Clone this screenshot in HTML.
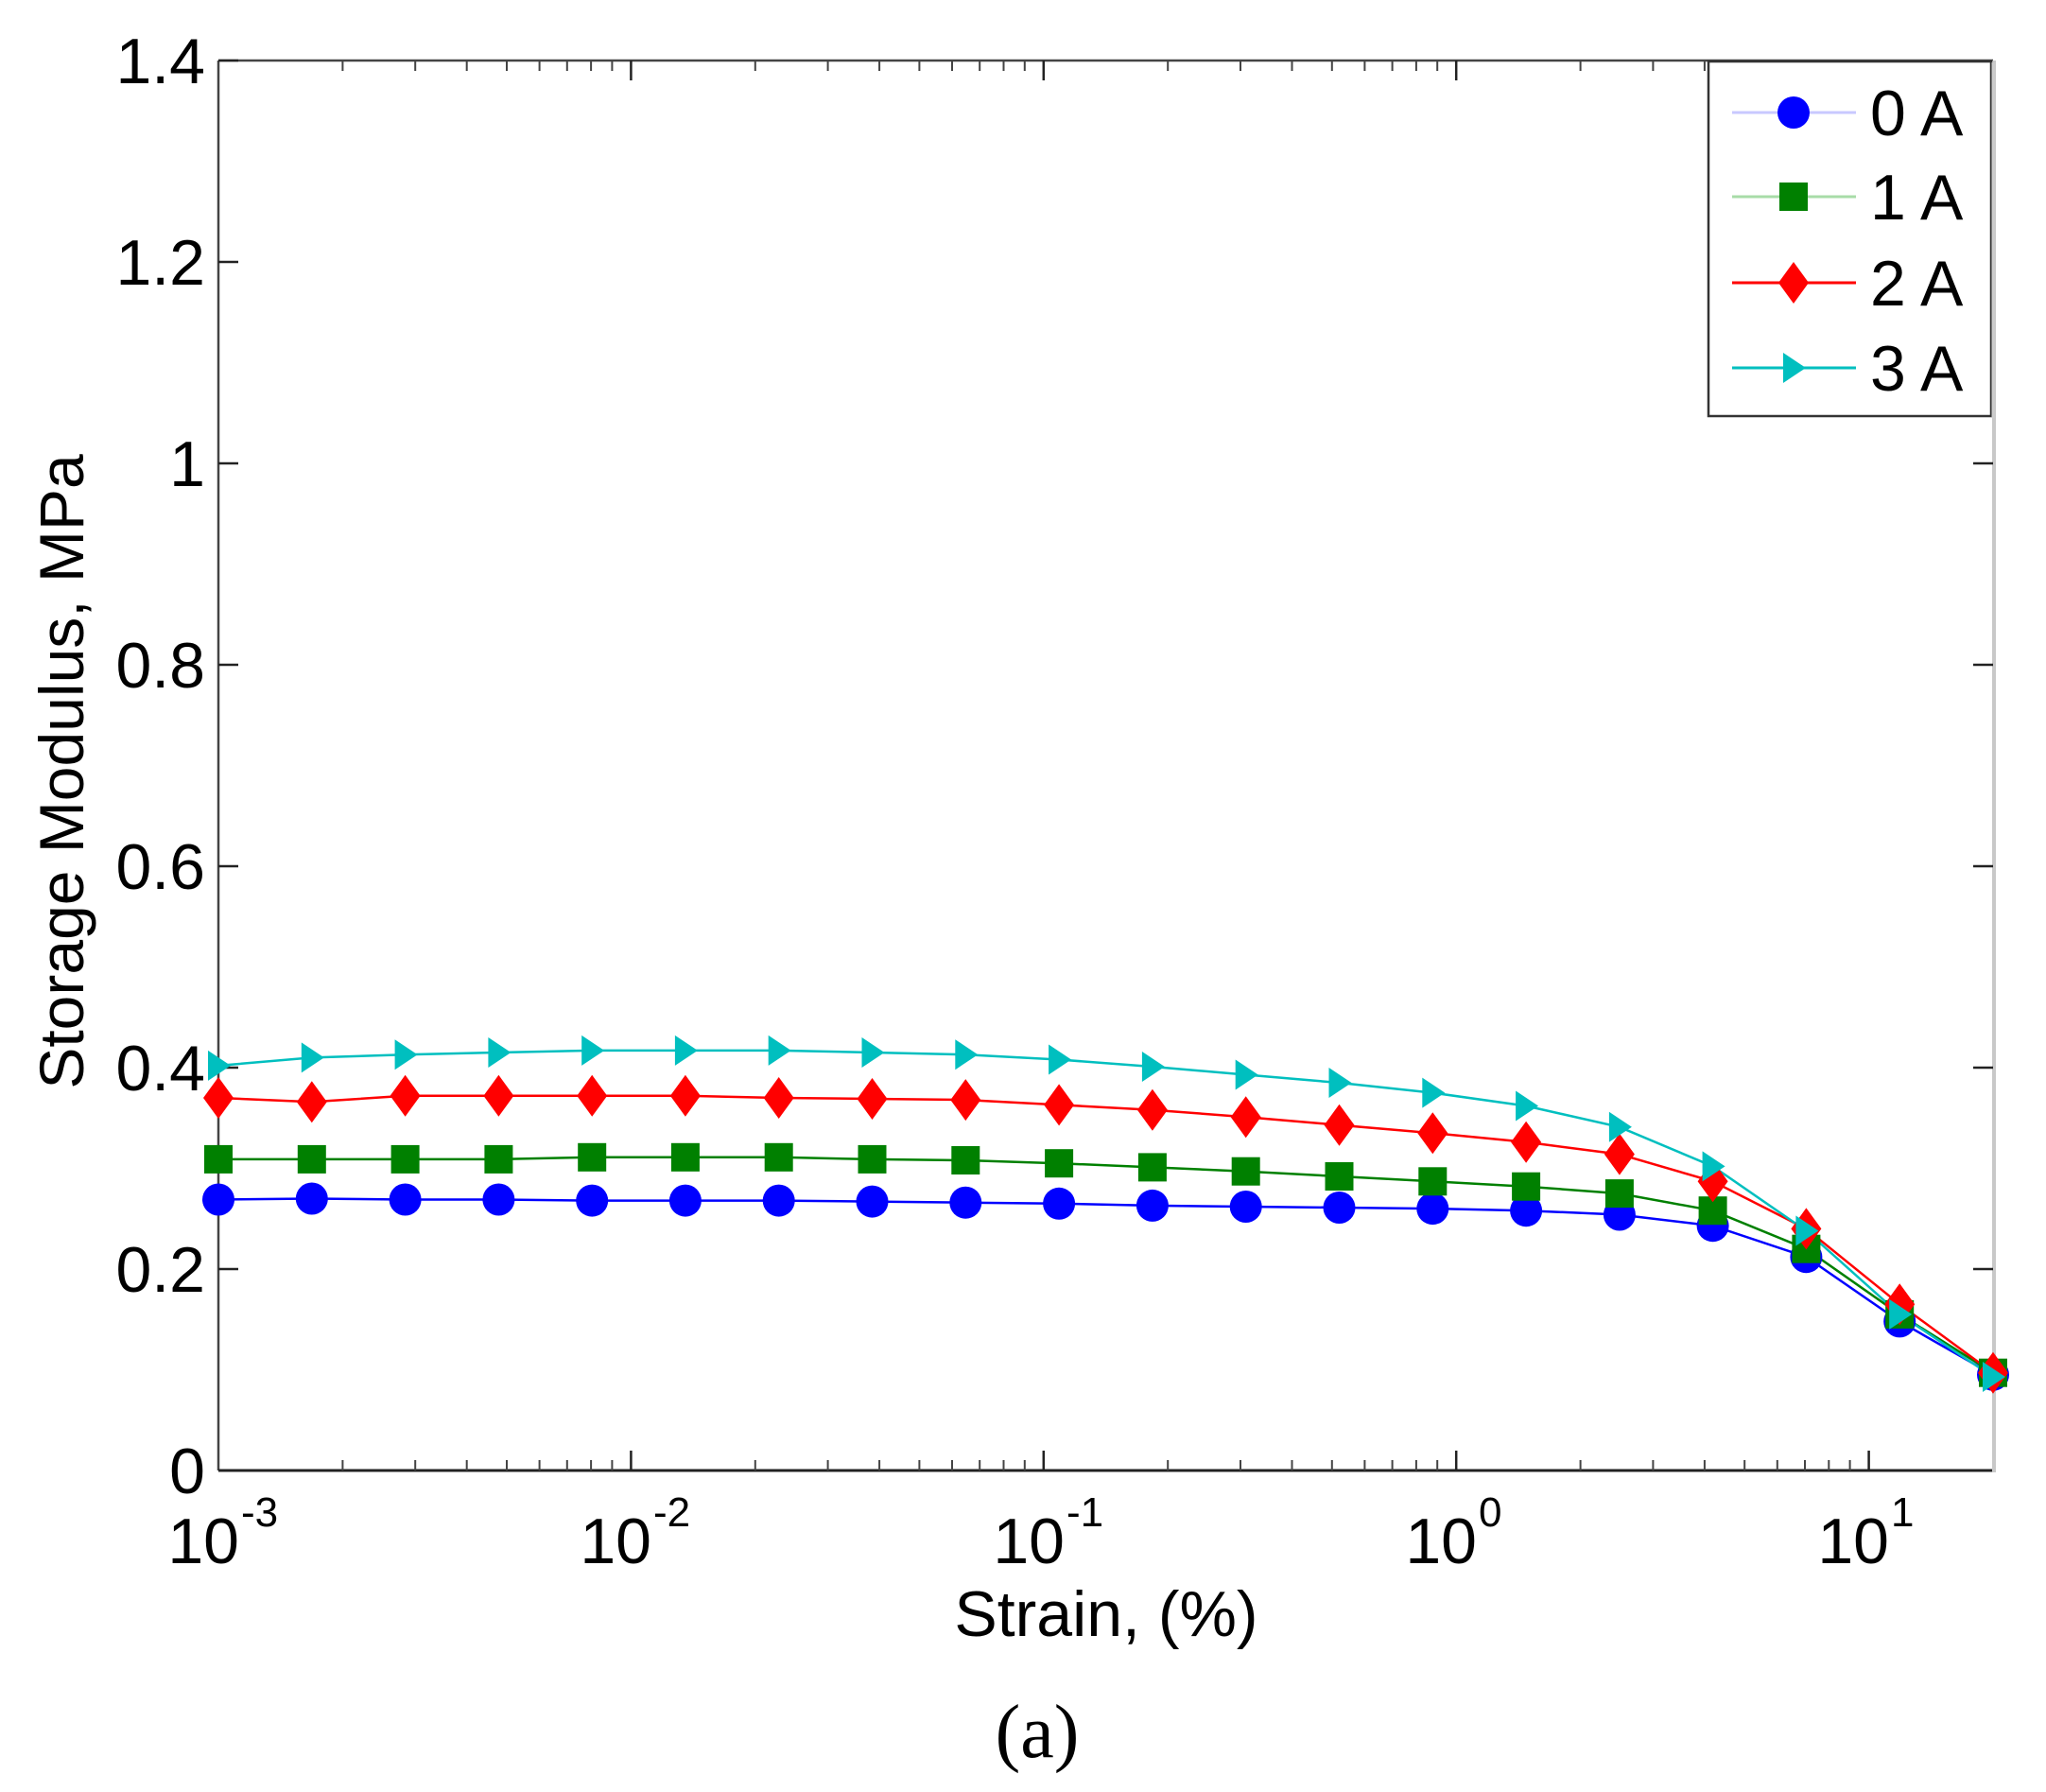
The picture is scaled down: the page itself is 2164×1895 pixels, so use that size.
<!DOCTYPE html>
<html><head><meta charset="utf-8"><style>
html,body{margin:0;padding:0;background:#fff;}
svg{display:block;}
text{font-family:"Liberation Sans",Arial,sans-serif;fill:#000;}
</style></head><body>
<svg width="2164" height="1895" viewBox="0 0 2164 1895" xmlns="http://www.w3.org/2000/svg" xmlns:xlink="http://www.w3.org/1999/xlink">
<defs>
<circle id="mc" cx="0" cy="0" r="17" fill="#0000ff"/>
<rect id="ms" x="-15" y="-15" width="30" height="30" fill="#008000"/>
<polygon id="md" points="0,-22 16,0 0,22 -16,0" fill="#ff0000"/>
<polygon id="mt" points="-11,-16 13,0 -11,16" fill="#00bfbf"/>
</defs>
<!-- axes box -->
<line x1="231" y1="64" x2="231" y2="1555" stroke="#444" stroke-width="2.5"/>
<line x1="231" y1="1555" x2="2108" y2="1555" stroke="#222" stroke-width="3"/>
<line x1="231" y1="64" x2="2108" y2="64" stroke="#444" stroke-width="2.5"/>
<line x1="2109" y1="64" x2="2109" y2="1557" stroke="#c8c8c8" stroke-width="4"/>
<!-- y ticks -->
<path d="M231 1342h21M231 1129h21M231 916h21M231 703h21M231 490h21M231 277h21M231 64h21
M2108 1342h-21M2108 1129h-21M2108 916h-21M2108 703h-21M2108 490h-21M2108 277h-21" stroke="#222" stroke-width="2.5"/>
<!-- x major ticks -->
<path d="M667.4 1555v-21M1103.8 1555v-21M1540.2 1555v-21M1976.6 1555v-21
M667.4 64v21M1103.8 64v21M1540.2 64v21M1976.6 64v21" stroke="#222" stroke-width="2.5"/>
<!-- x minor ticks -->
<path d="M362.4 1555v-11M439.2 1555v-11M493.7 1555v-11M536 1555v-11M570.6 1555v-11M599.8 1555v-11M625.1 1555v-11M647.4 1555v-11
M798.8 1555v-11M875.6 1555v-11M930.1 1555v-11M972.4 1555v-11M1007 1555v-11M1036.2 1555v-11M1061.5 1555v-11M1083.8 1555v-11
M1235.2 1555v-11M1312 1555v-11M1366.5 1555v-11M1408.8 1555v-11M1443.4 1555v-11M1472.6 1555v-11M1497.9 1555v-11M1520.2 1555v-11
M1671.6 1555v-11M1748.4 1555v-11M1802.9 1555v-11M1845.2 1555v-11M1879.8 1555v-11M1909 1555v-11M1934.3 1555v-11M1956.6 1555v-11
M362.4 64v11M439.2 64v11M493.7 64v11M536 64v11M570.6 64v11M599.8 64v11M625.1 64v11M647.4 64v11
M798.8 64v11M875.6 64v11M930.1 64v11M972.4 64v11M1007 64v11M1036.2 64v11M1061.5 64v11M1083.8 64v11
M1235.2 64v11M1312 64v11M1366.5 64v11M1408.8 64v11M1443.4 64v11M1472.6 64v11M1497.9 64v11M1520.2 64v11
M1671.6 64v11M1748.4 64v11M1802.9 64v11M1845.2 64v11M1879.8 64v11M1909 64v11M1934.3 64v11M1956.6 64v11" stroke="#444" stroke-width="2"/>
<!-- y labels -->
<g font-size="68" text-anchor="end">
<text x="217" y="1579">0</text>
<text x="217" y="1366">0.2</text>
<text x="217" y="1153">0.4</text>
<text x="217" y="940">0.6</text>
<text x="217" y="727">0.8</text>
<text x="217" y="514">1</text>
<text x="217" y="301">1.2</text>
<text x="217" y="88">1.4</text>
</g>
<!-- x labels -->
<g font-size="68">
<text x="253" y="1653" text-anchor="end">10</text><text x="255" y="1614" font-size="44">-3</text>
<text x="689" y="1653" text-anchor="end">10</text><text x="691" y="1614" font-size="44">-2</text>
<text x="1126" y="1653" text-anchor="end">10</text><text x="1128" y="1614" font-size="44">-1</text>
<text x="1562" y="1653" text-anchor="end">10</text><text x="1564" y="1614" font-size="44">0</text>
<text x="1998" y="1653" text-anchor="end">10</text><text x="2000" y="1614" font-size="44">1</text>
</g>
<text x="1170" y="1730" font-size="68" text-anchor="middle">Strain, (%)</text>
<text transform="translate(88,816) rotate(-90)" font-size="66" text-anchor="middle">Storage Modulus, MPa</text>
<text x="1097" y="1858" font-size="80" text-anchor="middle" style="font-family:'Liberation Serif','Times New Roman',serif">(a)</text>
<!-- series lines -->
<g fill="none" stroke-width="2.5">
<polyline stroke="#0000ff" points="231,1268.5 329.8,1267.5 428.6,1268.5 527.4,1268.5 626.2,1269.6 724.9,1269.6 823.7,1269.6 922.5,1270.6 1021.3,1271.7 1120.1,1272.8 1218.9,1274.9 1317.7,1276 1416.5,1277 1515.3,1278.1 1614.1,1280.2 1712.9,1284.5 1811.6,1296.2 1910.4,1329.2 2009.2,1397.4 2108,1453.8"/>
<polyline stroke="#008000" points="231,1225.9 329.8,1225.9 428.6,1225.9 527.4,1225.9 626.2,1223.8 724.9,1223.8 823.7,1223.8 922.5,1225.9 1021.3,1227 1120.1,1230.2 1218.9,1234.4 1317.7,1238.7 1416.5,1244 1515.3,1249.3 1614.1,1254.7 1712.9,1262.1 1811.6,1280.2 1910.4,1320.7 2009.2,1389.9 2108,1451.7"/>
<polyline stroke="#ff0000" points="231,1161 329.8,1165.2 428.6,1158.8 527.4,1158.8 626.2,1158.8 724.9,1158.8 823.7,1161 922.5,1162 1021.3,1163.1 1120.1,1168.4 1218.9,1173.7 1317.7,1181.2 1416.5,1189.7 1515.3,1198.2 1614.1,1207.8 1712.9,1220.6 1811.6,1249.3 1910.4,1299.4 2009.2,1379.3 2108,1451.7"/>
<polyline stroke="#00bfbf" points="231,1126.9 329.8,1118.4 428.6,1115.2 527.4,1113 626.2,1110.9 724.9,1110.9 823.7,1110.9 922.5,1113 1021.3,1115.2 1120.1,1120.5 1218.9,1128 1317.7,1136.5 1416.5,1145 1515.3,1155.6 1614.1,1169.5 1712.9,1191.8 1811.6,1233.4 1910.4,1301.5 2009.2,1389.9 2108,1456"/>
</g>
<!-- markers -->
<g>
<use xlink:href="#mc" href="#mc" x="231" y="1268.5"/><use xlink:href="#mc" href="#mc" x="329.8" y="1267.5"/><use xlink:href="#mc" href="#mc" x="428.6" y="1268.5"/><use xlink:href="#mc" href="#mc" x="527.4" y="1268.5"/><use xlink:href="#mc" href="#mc" x="626.2" y="1269.6"/><use xlink:href="#mc" href="#mc" x="724.9" y="1269.6"/><use xlink:href="#mc" href="#mc" x="823.7" y="1269.6"/><use xlink:href="#mc" href="#mc" x="922.5" y="1270.6"/><use xlink:href="#mc" href="#mc" x="1021.3" y="1271.7"/><use xlink:href="#mc" href="#mc" x="1120.1" y="1272.8"/><use xlink:href="#mc" href="#mc" x="1218.9" y="1274.9"/><use xlink:href="#mc" href="#mc" x="1317.7" y="1276"/><use xlink:href="#mc" href="#mc" x="1416.5" y="1277"/><use xlink:href="#mc" href="#mc" x="1515.3" y="1278.1"/><use xlink:href="#mc" href="#mc" x="1614.1" y="1280.2"/><use xlink:href="#mc" href="#mc" x="1712.9" y="1284.5"/><use xlink:href="#mc" href="#mc" x="1811.6" y="1296.2"/><use xlink:href="#mc" href="#mc" x="1910.4" y="1329.2"/><use xlink:href="#mc" href="#mc" x="2009.2" y="1397.4"/><use xlink:href="#mc" href="#mc" x="2108" y="1453.8"/>
<use xlink:href="#ms" href="#ms" x="231" y="1225.9"/><use xlink:href="#ms" href="#ms" x="329.8" y="1225.9"/><use xlink:href="#ms" href="#ms" x="428.6" y="1225.9"/><use xlink:href="#ms" href="#ms" x="527.4" y="1225.9"/><use xlink:href="#ms" href="#ms" x="626.2" y="1223.8"/><use xlink:href="#ms" href="#ms" x="724.9" y="1223.8"/><use xlink:href="#ms" href="#ms" x="823.7" y="1223.8"/><use xlink:href="#ms" href="#ms" x="922.5" y="1225.9"/><use xlink:href="#ms" href="#ms" x="1021.3" y="1227"/><use xlink:href="#ms" href="#ms" x="1120.1" y="1230.2"/><use xlink:href="#ms" href="#ms" x="1218.9" y="1234.4"/><use xlink:href="#ms" href="#ms" x="1317.7" y="1238.7"/><use xlink:href="#ms" href="#ms" x="1416.5" y="1244"/><use xlink:href="#ms" href="#ms" x="1515.3" y="1249.3"/><use xlink:href="#ms" href="#ms" x="1614.1" y="1254.7"/><use xlink:href="#ms" href="#ms" x="1712.9" y="1262.1"/><use xlink:href="#ms" href="#ms" x="1811.6" y="1280.2"/><use xlink:href="#ms" href="#ms" x="1910.4" y="1320.7"/><use xlink:href="#ms" href="#ms" x="2009.2" y="1389.9"/><use xlink:href="#ms" href="#ms" x="2108" y="1451.7"/>
<use xlink:href="#md" href="#md" x="231" y="1161"/><use xlink:href="#md" href="#md" x="329.8" y="1165.2"/><use xlink:href="#md" href="#md" x="428.6" y="1158.8"/><use xlink:href="#md" href="#md" x="527.4" y="1158.8"/><use xlink:href="#md" href="#md" x="626.2" y="1158.8"/><use xlink:href="#md" href="#md" x="724.9" y="1158.8"/><use xlink:href="#md" href="#md" x="823.7" y="1161"/><use xlink:href="#md" href="#md" x="922.5" y="1162"/><use xlink:href="#md" href="#md" x="1021.3" y="1163.1"/><use xlink:href="#md" href="#md" x="1120.1" y="1168.4"/><use xlink:href="#md" href="#md" x="1218.9" y="1173.7"/><use xlink:href="#md" href="#md" x="1317.7" y="1181.2"/><use xlink:href="#md" href="#md" x="1416.5" y="1189.7"/><use xlink:href="#md" href="#md" x="1515.3" y="1198.2"/><use xlink:href="#md" href="#md" x="1614.1" y="1207.8"/><use xlink:href="#md" href="#md" x="1712.9" y="1220.6"/><use xlink:href="#md" href="#md" x="1811.6" y="1249.3"/><use xlink:href="#md" href="#md" x="1910.4" y="1299.4"/><use xlink:href="#md" href="#md" x="2009.2" y="1379.3"/><use xlink:href="#md" href="#md" x="2108" y="1451.7"/>
<use xlink:href="#mt" href="#mt" x="231" y="1126.9"/><use xlink:href="#mt" href="#mt" x="329.8" y="1118.4"/><use xlink:href="#mt" href="#mt" x="428.6" y="1115.2"/><use xlink:href="#mt" href="#mt" x="527.4" y="1113"/><use xlink:href="#mt" href="#mt" x="626.2" y="1110.9"/><use xlink:href="#mt" href="#mt" x="724.9" y="1110.9"/><use xlink:href="#mt" href="#mt" x="823.7" y="1110.9"/><use xlink:href="#mt" href="#mt" x="922.5" y="1113"/><use xlink:href="#mt" href="#mt" x="1021.3" y="1115.2"/><use xlink:href="#mt" href="#mt" x="1120.1" y="1120.5"/><use xlink:href="#mt" href="#mt" x="1218.9" y="1128"/><use xlink:href="#mt" href="#mt" x="1317.7" y="1136.5"/><use xlink:href="#mt" href="#mt" x="1416.5" y="1145"/><use xlink:href="#mt" href="#mt" x="1515.3" y="1155.6"/><use xlink:href="#mt" href="#mt" x="1614.1" y="1169.5"/><use xlink:href="#mt" href="#mt" x="1712.9" y="1191.8"/><use xlink:href="#mt" href="#mt" x="1811.6" y="1233.4"/><use xlink:href="#mt" href="#mt" x="1910.4" y="1301.5"/><use xlink:href="#mt" href="#mt" x="2009.2" y="1389.9"/><use xlink:href="#mt" href="#mt" x="2108" y="1456"/>
</g>
<!-- legend -->
<rect x="1807" y="65" width="299" height="375" fill="#fff" stroke="#333" stroke-width="2.5"/>
<line x1="2108" y1="66" x2="2108" y2="442" stroke="#ccc" stroke-width="3"/>
<g stroke-width="3">
<line x1="1832" y1="119" x2="1963" y2="119" stroke="#c8c8ff"/>
<line x1="1832" y1="208" x2="1963" y2="208" stroke="#a8dca8"/>
<line x1="1832" y1="299" x2="1963" y2="299" stroke="#ff0000"/>
<line x1="1832" y1="389" x2="1963" y2="389" stroke="#00bfbf"/>
</g>
<use xlink:href="#mc" href="#mc" x="1897" y="119"/>
<use xlink:href="#ms" href="#ms" x="1897" y="208"/>
<use xlink:href="#md" href="#md" x="1897" y="299"/>
<use xlink:href="#mt" href="#mt" x="1897" y="389"/>
<g font-size="68">
<text x="1978" y="143">0 A</text>
<text x="1978" y="232">1 A</text>
<text x="1978" y="323">2 A</text>
<text x="1978" y="413">3 A</text>
</g>
</svg>
</body></html>
